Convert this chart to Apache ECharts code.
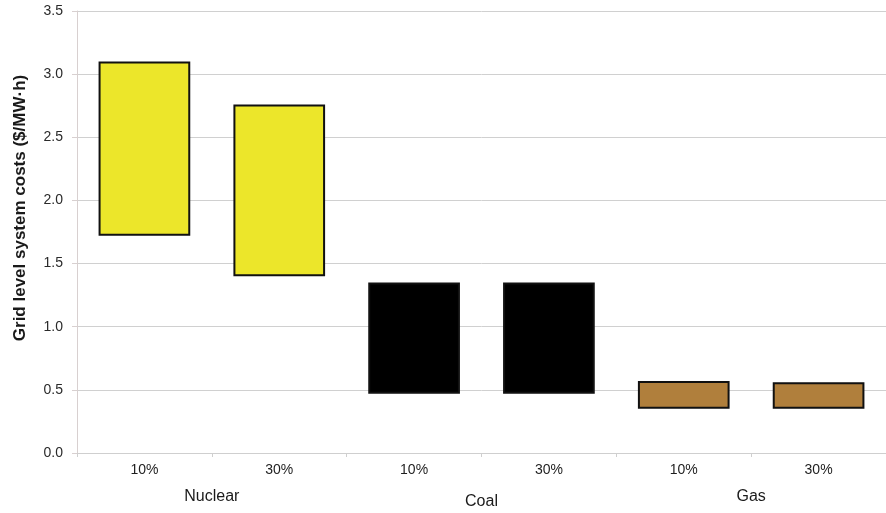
<!DOCTYPE html>
<html>
<head>
<meta charset="utf-8">
<script src="https://cdn.jsdelivr.net/npm/echarts@6/dist/echarts.min.js"></script>
<style>
html,body{margin:0;padding:0;background:#fff;}
#chart{width:886px;height:513px;}
</style>
</head>
<body>
<div id="chart"></div>
<script>
var categories = ['10%', '30%', '10%', '30%', '10%', '30%'];
var groups = ['Nuclear', 'Coal', 'Gas'];
var lowValues = [1.72, 1.40, 0.47, 0.47, 0.35, 0.35];
var highValues = [3.10, 2.76, 1.35, 1.35, 0.57, 0.56];
var barColors = ['#ECE62A', '#ECE62A', '#000000', '#000000', '#B07F3C', '#B07F3C'];
var yTicks = [0, 0.5, 1.0, 1.5, 2.0, 2.5, 3.0, 3.5];

var chart = echarts.init(document.getElementById('chart'), null, {renderer: 'canvas'});
var font = 'Liberation Sans, Arial, sans-serif';

var rangeData = highValues.map(function (h, i) {
  return {
    value: +(h - lowValues[i]).toFixed(3),
    itemStyle: {color: barColors[i], borderColor: '#111', borderWidth: 2}
  };
});

chart.setOption({
  animation: false,
  backgroundColor: '#ffffff',
  grid: {left: 77, right: 0, top: 11, bottom: 60, containLabel: false},
  xAxis: [
    {
      type: 'category',
      data: categories,
      position: 'bottom',
      axisLine: {lineStyle: {color: '#cfcfcf', width: 1}},
      axisTick: {show: true, length: 4, lineStyle: {color: '#cfcfcf'}},
      axisLabel: {margin: 10, color: '#1e1e1e', fontSize: 14, fontFamily: font}
    },
    {
      type: 'category',
      data: groups.map(function (g, i) {
        return i === 1 ? {value: g, textStyle: {padding: [5, 0, 0, 0]}} : g;
      }),
      position: 'bottom',
      axisLine: {show: false},
      axisTick: {show: false},
      axisLabel: {margin: 36, color: '#1a1a1a', fontSize: 16, fontFamily: font}
    }
  ],
  yAxis: {
    type: 'value',
    min: yTicks[0],
    max: yTicks[yTicks.length - 1],
    interval: 0.5,
    name: 'Grid level system costs ($/MW·h)',
    nameLocation: 'middle',
    nameGap: 48,
    nameTextStyle: {fontWeight: 'bold', fontSize: 17, color: '#1a1a1a', fontFamily: font, padding: [0, 0, 0, 48]},
    axisLine: {show: true, lineStyle: {color: '#d8d0d0', width: 1}},
    axisTick: {show: true, length: 5, lineStyle: {color: '#d8d0d0'}},
    axisLabel: {
      margin: 14, color: '#2a2a2a', fontSize: 14, fontFamily: font,
      formatter: function (v) { return v.toFixed(1); }
    },
    splitLine: {show: true, lineStyle: {color: '#d0d0d0', width: 1}}
  },
  series: [
    {
      type: 'bar',
      stack: 'range',
      xAxisIndex: 0,
      data: lowValues,
      barWidth: '68%',
      itemStyle: {color: 'transparent'},
      silent: true
    },
    {
      type: 'bar',
      stack: 'range',
      xAxisIndex: 0,
      data: rangeData,
      barWidth: '68%'
    }
  ]
});
</script>
</body>
</html>
